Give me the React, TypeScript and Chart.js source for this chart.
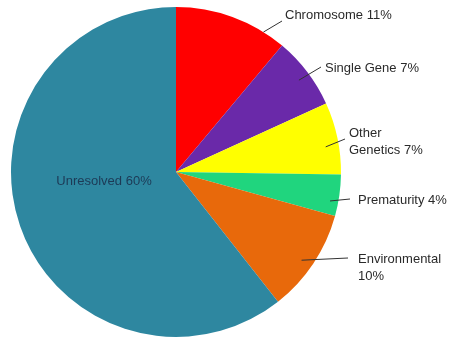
import React, { useEffect, useRef } from "react";
import { Chart, registerables } from "chart.js";

Chart.register(...registerables);

const categories = ["Chromosome", "Single Gene", "Other Genetics", "Prematurity", "Environmental", "Unresolved"];
const values = [11, 7, 7, 4, 10, 60];
const colors = ["#FF0000", "#6A29A9", "#FFFF00", "#20D57E", "#E8690B", "#2E87A0"];
const labelLines = [["Chromosome 11%"], ["Single Gene 7%"], ["Other", "Genetics 7%"], ["Prematurity 4%"], ["Environmental", "10%"], ["Unresolved 60%"]];

// annotation layout: anchor on slice (angle fraction, radius fraction), leader end, text position
const labelLayout = [
  { f: 0.8, r: 1.0, lx: 282, ly: 21, tx: 285, ty: 15, align: "left" },
  { f: 0.52, r: 0.93, lx: 321, ly: 67, tx: 325, ty: 68, align: "left" },
  { f: 0.59, r: 0.92, lx: 345, ly: 139, tx: 349, ty: 133, align: "left" },
  { f: 0.67, r: 0.95, lx: 350, ly: 199, tx: 358, ty: 200, align: "left" },
  { f: 0.54, r: 0.93, lx: 348, ly: 258, tx: 358, ty: 259, align: "left" },
  { f: -1, r: 0, lx: 0, ly: 0, tx: 104, ty: 181, align: "center" },
];

const labelPlugin = {
  id: "pieLabels",
  afterDatasetsDraw(chart: any) {
    const ctx = chart.ctx;
    const meta = chart.getDatasetMeta(0);
    ctx.save();
    ctx.font = "13px 'Liberation Sans', Arial, sans-serif";
    ctx.textBaseline = "middle";
    meta.data.forEach((arc: any, i: number) => {
      const L = labelLayout[i];
      const p = arc.getProps(["x", "y", "startAngle", "endAngle", "outerRadius"], true);
      if (L.f >= 0) {
        const a = p.startAngle + (p.endAngle - p.startAngle) * L.f;
        const sx = p.x + Math.cos(a) * p.outerRadius * L.r;
        const sy = p.y + Math.sin(a) * p.outerRadius * L.r;
        ctx.strokeStyle = "#333";
        ctx.lineWidth = 1;
        ctx.beginPath();
        ctx.moveTo(sx, sy);
        ctx.lineTo(L.lx, L.ly);
        ctx.stroke();
        ctx.fillStyle = "#2a2a2a";
      } else {
        ctx.fillStyle = "#1d3a56";
      }
      ctx.textAlign = L.align;
      labelLines[i].forEach((t, k) => ctx.fillText(t, L.tx, L.ty + k * 17));
    });
    ctx.restore();
  },
};

export default function App() {
  const ref = useRef<HTMLCanvasElement | null>(null);
  useEffect(() => {
    document.body.style.margin = "0";
    const chart = new Chart(ref.current as HTMLCanvasElement, {
      type: "pie",
      data: {
        labels: categories,
        datasets: [{ data: values, backgroundColor: colors, borderWidth: 0 }],
      },
      options: {
        animation: false,
        responsive: false,
        layout: { padding: { left: 11, right: 109, top: 7, bottom: 1 } },
        plugins: { legend: { display: false }, tooltip: { enabled: false } },
      },
      plugins: [labelPlugin],
    } as any);
    return () => chart.destroy();
  }, []);
  return (
    <div style={{ position: "absolute", left: 0, top: 0, width: 450, height: 338, background: "#fff" }}>
      <canvas ref={ref} width={450} height={338} />
    </div>
  );
}
